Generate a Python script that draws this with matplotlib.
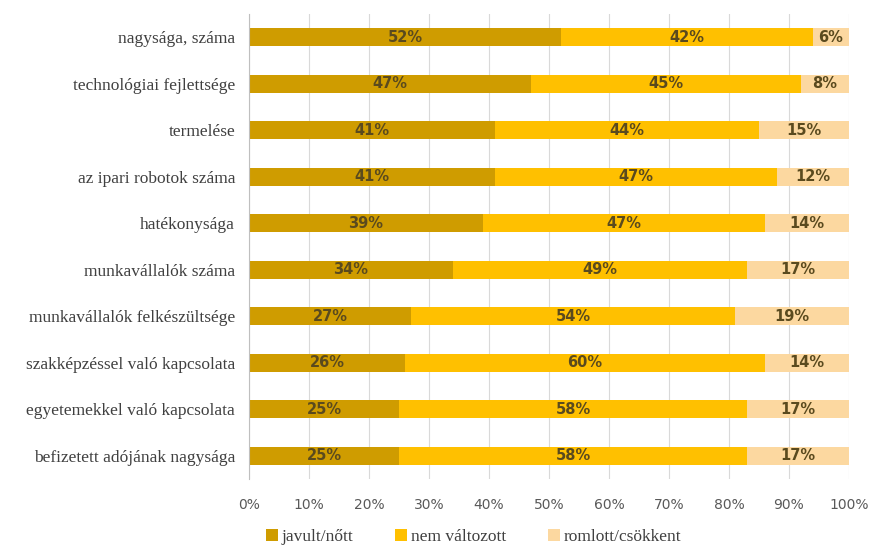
import matplotlib
matplotlib.use("Agg")
import matplotlib.pyplot as plt
import numpy as np

categories = [
    "nagysága, száma",
    "technológiai fejlettsége",
    "termelése",
    "az ipari robotok száma",
    "hatékonysága",
    "munkavállalók száma",
    "munkavállalók felkészültsége",
    "szakképzéssel való kapcsolata",
    "egyetemekkel való kapcsolata",
    "befizetett adójának nagysága",
]
javult = [52, 47, 41, 41, 39, 34, 27, 26, 25, 25]
nem_valtozott = [42, 45, 44, 47, 47, 49, 54, 60, 58, 58]
romlott = [6, 8, 15, 12, 14, 17, 19, 14, 17, 17]
series_names = ["javult/nőtt", "nem változott", "romlott/csökkent"]
xtick_labels = ["0%", "10%", "20%", "30%", "40%", "50%", "60%", "70%", "80%", "90%", "100%"]

colors = ["#CF9C00", "#FFC000", "#FCD8A0"]
label_color = "#5A4A1E"

fig = plt.figure(figsize=(8.69, 5.46), dpi=100)
ax = fig.add_axes([0.2865, 0.1227, 0.6904, 0.852])

y = np.arange(len(categories))
data = [javult, nem_valtozott, romlott]
left = np.zeros(len(categories))
handles = []
for vals, col, name in zip(data, colors, series_names):
    vals = np.array(vals, dtype=float)
    b = ax.barh(y, vals, left=left, height=0.39, color=col, label=name, zorder=3)
    handles.append(b)
    for yi, l, v in zip(y, left, vals):
        ax.text(l + v / 2, yi, f"{int(v)}%", ha="center", va="center",
                fontsize=10.5, fontweight="bold", color=label_color,
                family="DejaVu Sans", zorder=4)
    left += vals

ax.set_xlim(0, 100)
ax.set_ylim(len(categories) - 0.5, -0.5)
ax.set_xticks(np.arange(0, 101, 10))
ax.set_xticklabels(xtick_labels, fontsize=10, color="#595959", family="DejaVu Sans")
ax.set_yticks(y)
ax.set_yticklabels(categories, fontsize=12.5, color="#404040", family="Liberation Serif")
ax.tick_params(axis="both", length=0)
ax.tick_params(axis="x", pad=14)
ax.tick_params(axis="y", pad=10)
ax.grid(axis="x", color="#D9D9D9", linewidth=0.8, zorder=0)
for s in ["top", "right", "bottom"]:
    ax.spines[s].set_visible(False)
ax.spines["left"].set_color("#BFBFBF")
ax.spines["left"].set_zorder(5)

leg = fig.legend(handles=handles, labels=series_names, loc="center",
                 bbox_to_anchor=(0.545, 0.016), ncol=3, frameon=False,
                 prop={"family": "Liberation Serif", "size": 12.5},
                 handlelength=0.7, handleheight=0.7, handletextpad=0.2,
                 columnspacing=2.4)
for t in leg.get_texts():
    t.set_color("#404040")

fig.savefig("out.png", dpi=100)
